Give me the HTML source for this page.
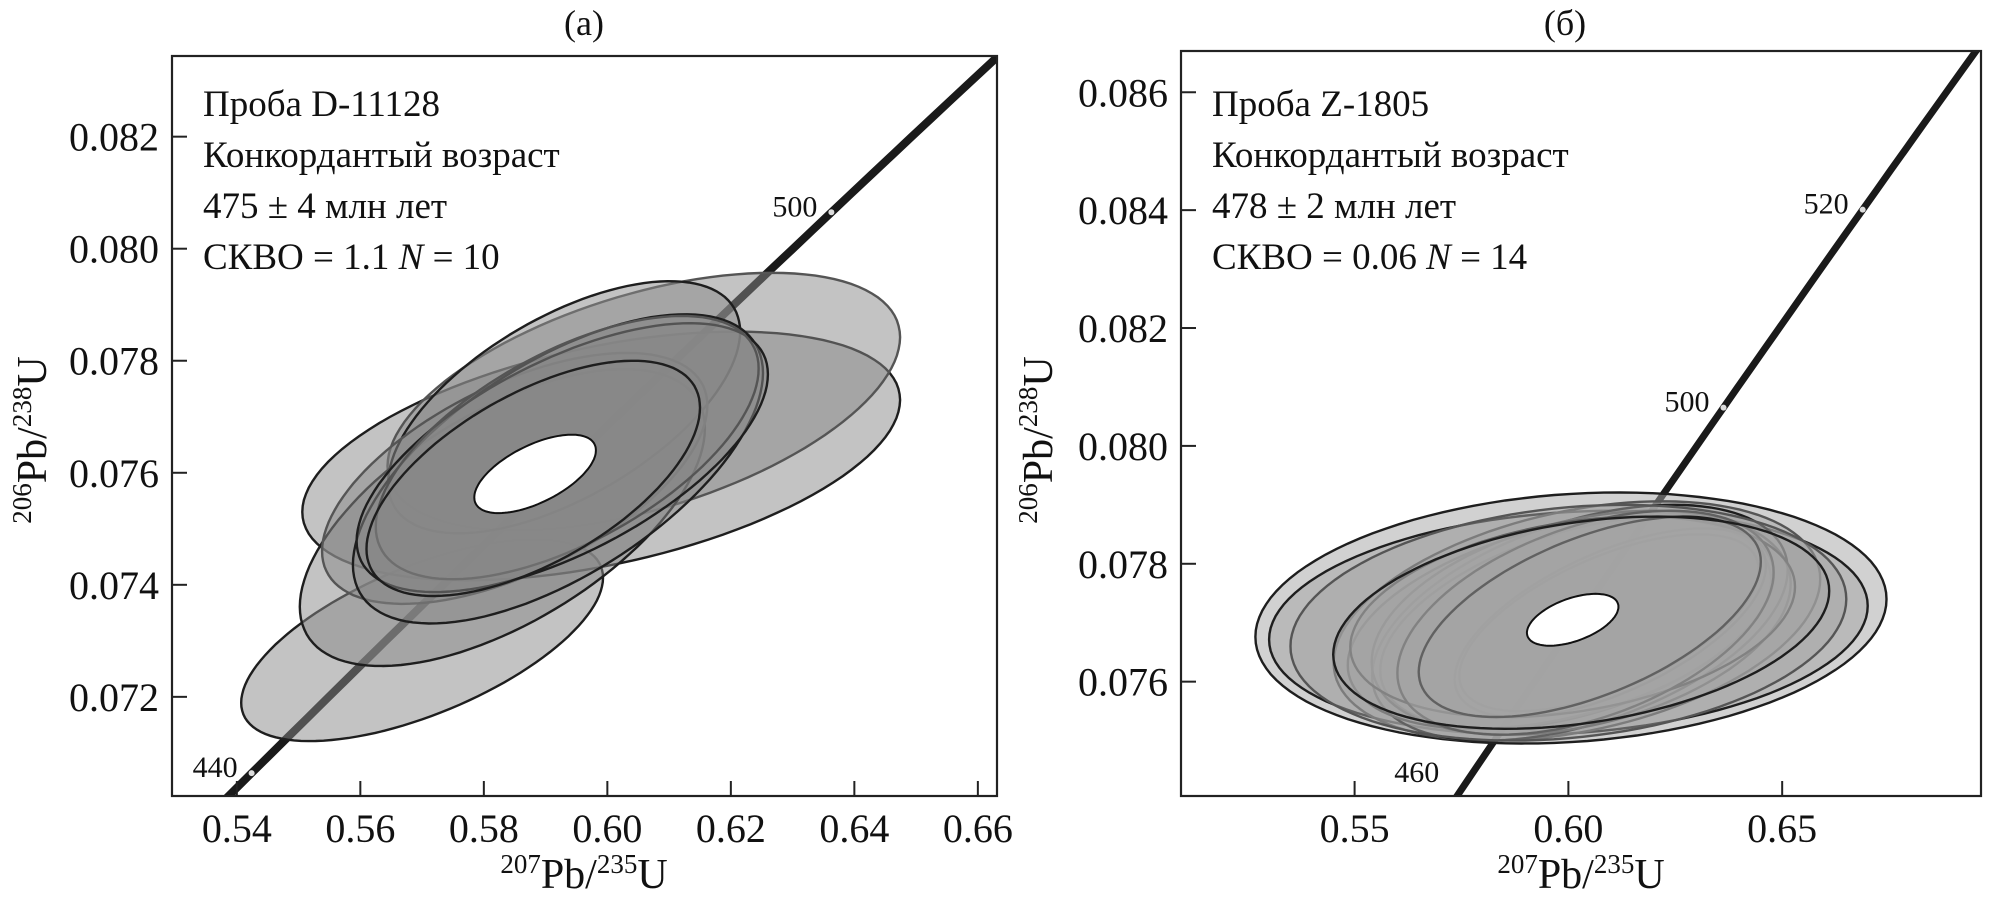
<!DOCTYPE html>
<html><head><meta charset="utf-8"><style>
html,body{margin:0;padding:0;background:#fff;overflow:hidden;width:1989px;height:904px;}
svg{display:block;font-family:"Liberation Serif",serif;}
</style></head><body>
<svg id="chart" width="1989" height="904" viewBox="0 0 1989 904" xmlns="http://www.w3.org/2000/svg"></svg>
<script>
// ---------- data ----------
const panelATitle = "(a)";
const panelBTitle = "(б)";
const xTicksA = [0.54,0.56,0.58,0.60,0.62,0.64,0.66];
const yTicksA = [0.072,0.074,0.076,0.078,0.080,0.082];
const xTicksB = [0.55,0.60,0.65];
const yTicksB = [0.076,0.078,0.080,0.082,0.084,0.086];
const ageLabelsA = [440,500];
const ageLabelsB = [460,500,520];
// ellipses: center x, center y, sigma x, sigma y, rho
const ellCxA = [0.570,0.599,0.6059,0.583,0.593,0.585,0.592,0.5927,0.5935,0.588];
const ellCyA = [0.07301,0.0763,0.07727,0.0752,0.07717,0.0759,0.07607,0.07627,0.07645,0.0759];
const ellSxA = [0.0293,0.0484,0.0415,0.0328,0.0285,0.0312,0.0332,0.0333,0.031,0.027];
const ellSyA = [0.0018,0.00222,0.0023,0.00265,0.00225,0.00224,0.00276,0.0024,0.00235,0.0021];
const ellRhoA = [0.62,0.45,0.5,0.6,0.6,0.58,0.62,0.62,0.6,0.6];
const meanA = [0.5883,0.07598,0.00985,0.0007,0.6];
const ellCxB = [0.6006,0.600,0.602,0.6027,0.602,0.5979,0.6098,0.6095,0.603,0.601,0.604,0.6,0.605,0.603];
const ellCyB = [0.07708,0.0770,0.07703,0.0770,0.0770,0.0770,0.0770,0.0770,0.0770,0.0771,0.0770,0.0770,0.0771,0.0770];
const ellSxB = [0.0738,0.070,0.0569,0.0486,0.046,0.0495,0.0364,0.035,0.049,0.052,0.044,0.065,0.04,0.058];
const ellSyB = [0.00213,0.0019,0.00203,0.002,0.0018,0.0018,0.0016,0.0015,0.0019,0.0017,0.0019,0.002,0.0017,0.0018];
const ellRhoB = [0.15,0.15,0.35,0.45,0.45,0.4,0.6,0.6,0.35,0.3,0.45,0.2,0.55,0.3];
const meanB = [0.601,0.07705,0.0107,0.00044,0.5];
// ---------- helpers ----------
const NS="http://www.w3.org/2000/svg";
const svg=document.getElementById('chart');
function mk(tag,attrs,parent){const e=document.createElementNS(NS,tag);for(const k in attrs)e.setAttribute(k,attrs[k]);(parent||svg).appendChild(e);return e;}
const L238=1.55125e-10,L235=9.8485e-10;
function conc(t){return [Math.exp(L235*t*1e6)-1,Math.exp(L238*t*1e6)-1];}
function ellPath(sx,sy,cx,cy,sdx,sdy,rho){let d="";const r2=Math.sqrt(1-rho*rho);for(let i=0;i<=120;i++){const th=i/120*2*Math.PI;const x=cx+sdx*Math.cos(th);const y=cy+sdy*(rho*Math.cos(th)+r2*Math.sin(th));d+=(i?"L":"M")+sx(x).toFixed(1)+","+sy(y).toFixed(1);}return d+"Z";}

function panel(o){
  const sx=v=>o.x0+(v-o.xa)/(o.xb-o.xa)*(o.x1-o.x0);
  const sy=v=>o.y1-(v-o.ya)/(o.yb-o.ya)*(o.y1-o.y0);
  const g=mk('g',{});
  
  
  const t=mk('text',{x:o.titleX,y:35,'font-size':36,'text-anchor':'middle',fill:'#111'},g);t.textContent=o.title;
  
  const cp=mk('clipPath',{id:'clip'+o.id},g);mk('rect',{x:o.x0,y:o.y0,width:o.x1-o.x0,height:o.y1-o.y0},cp);
  const pg=mk('g',{'clip-path':'url(#clip'+o.id+')'},g);
  let d="";for(let a=400;a<=560;a+=2){const p=conc(a);d+=(a===400?"M":"L")+sx(p[0]).toFixed(1)+","+sy(p[1]).toFixed(1);}
  const cl=mk('path',{d:d,stroke:'#1a1a1a','stroke-width':o.cw,fill:'none'},pg);
  
  for(let i=0;i<o.cx.length;i++){
    const e=mk('path',{d:ellPath(sx,sy,o.cx[i],o.cy[i],o.sdx[i],o.sdy[i],o.rho[i]),fill:o.fill,'fill-opacity':o.fop,stroke:i%3===2?'#555':'#1e1e1e','stroke-width':2.4},pg);
    
  }
  const m=o.mean;
  const me=mk('path',{d:ellPath(sx,sy,m[0],m[1],m[2],m[3],m[4]),fill:'#fff',stroke:'#111','stroke-width':2},pg);
  
  o.ages.forEach((a,k)=>{const p=conc(a);const X=sx(p[0]),Y=sy(p[1]);
    const c=mk('circle',{cx:X,cy:Y,r:3,fill:'#ddd'},pg);
    
    const ly=Math.min(Y+4,o.y1-14);
    const lt=mk('text',{x:X-14,y:ly,'font-size':30,'text-anchor':'end',fill:'#111'},g);lt.textContent=a;
    
  });
  const fr=mk('rect',{x:o.x0,y:o.y0,width:o.x1-o.x0,height:o.y1-o.y0,fill:'none',stroke:'#222','stroke-width':2.2},g);
  
  o.xt.forEach(v=>{const X=sx(v);mk('line',{x1:X,x2:X,y1:o.y1,y2:o.y1-15,stroke:'#222','stroke-width':2},g);
    const tx=mk('text',{x:X,y:o.y1+46,'font-size':40,'text-anchor':'middle',fill:'#111'},g);tx.textContent=v.toFixed(2);
    });
  o.yt.forEach(v=>{const Y=sy(v);mk('line',{x1:o.x0,x2:o.x0+15,y1:Y,y2:Y,stroke:'#222','stroke-width':2},g);
    const tx=mk('text',{x:o.x0-13,y:Y+14,'font-size':40,'text-anchor':'end',fill:'#111'},g);tx.textContent=v.toFixed(3);
    });
  const xt=mk('text',{x:o.xlabX,y:888,'font-size':42,'text-anchor':'middle',fill:'#111'},g);
  xt.innerHTML='<tspan font-size="27" dy="-15">207</tspan><tspan dy="15">Pb/</tspan><tspan font-size="27" dy="-15">235</tspan><tspan dy="15">U</tspan>';
  
  const yt=mk('text',{x:0,y:0,'font-size':42,'text-anchor':'middle',fill:'#111',transform:'translate('+o.ylabX+',440) rotate(-90)'},g);
  yt.innerHTML='<tspan font-size="27" dy="-15">206</tspan><tspan dy="15">Pb/</tspan><tspan font-size="27" dy="-15">238</tspan><tspan dy="15">U</tspan>';
  
  o.notes.forEach((s,k)=>{const n=mk('text',{x:o.x0+31,y:116+k*51,'font-size':37,fill:'#111'},g);n.innerHTML=s;
    });
}
panel({id:'a',title:panelATitle,titleX:584,x0:172,x1:997,y0:56,y1:796,xa:0.5295,xb:0.6631,ya:0.07023,yb:0.08344,
  cx:ellCxA,cy:ellCyA,sdx:ellSxA,sdy:ellSyA,rho:ellRhoA,mean:meanA,fill:'#888',fop:0.5,cw:8,ages:ageLabelsA,
  xt:xTicksA,yt:yTicksA,xlabX:584,ylabX:46,
  notes:['Проба D-11128','Конкордантый возраст','475 ± 4 млн лет','СКВО = 1.1 <tspan font-style="italic">N</tspan> = 10']});
panel({id:'b',title:panelBTitle,titleX:1565,x0:1181,x1:1981,y0:51,y1:796,xa:0.5094,xb:0.6965,ya:0.07406,yb:0.0867,
  cx:ellCxB,cy:ellCyB,sdx:ellSxB,sdy:ellSyB,rho:ellRhoB,mean:meanB,fill:'#a4a4a4',fop:0.5,cw:7,ages:ageLabelsB,
  xt:xTicksB,yt:yTicksB,xlabX:1581,ylabX:1052,
  notes:['Проба Z-1805','Конкордантый возраст','478 ± 2 млн лет','СКВО = 0.06 <tspan font-style="italic">N</tspan> = 14']});
</script>
</body></html>
